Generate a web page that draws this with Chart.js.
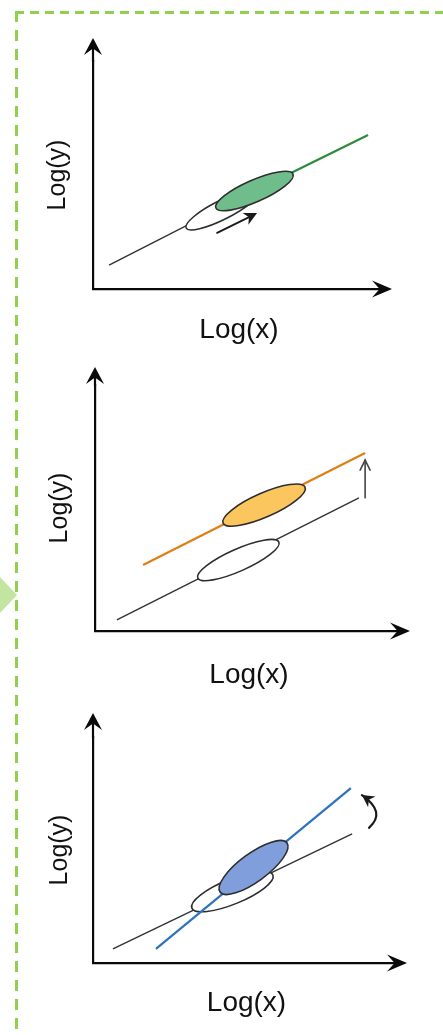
<!DOCTYPE html>
<html><head><meta charset="utf-8">
<script src="https://cdn.jsdelivr.net/npm/chart.js@4.4.1/dist/chart.umd.min.js"></script>
<style>
html,body{margin:0;padding:0;background:#fff;width:443px;height:1035px;overflow:hidden;}
#wrap{position:relative;width:443px;height:1035px;}
canvas{position:absolute;left:0;}
.dashH{position:absolute;left:15px;top:11px;width:428px;height:3px;background:repeating-linear-gradient(to right,#8fd14f 0 9px,transparent 9px 15px);}
.dashV{position:absolute;left:15px;top:11px;width:3px;height:1024px;background:repeating-linear-gradient(to bottom,#8fd14f 0 11px,transparent 11px 19px);}
.tri{position:absolute;left:0;top:577px;width:17px;height:36px;background:#c3e5a2;clip-path:polygon(0 0,100% 50%,0 100%);}
</style></head>
<body><div id="wrap">
<div class="dashH"></div><div class="dashV"></div><div class="tri"></div>
<canvas id="c1" width="443" height="345" style="top:0px"></canvas>
<canvas id="c2" width="443" height="345" style="top:345px"></canvas>
<canvas id="c3" width="443" height="345" style="top:690px"></canvas>
</div>
<script>
// ---- data (axis units 0..10 on both log axes) ----
const axisTitleX = 'Log(x)';
const axisTitleY = 'Log(y)';
const axisRange = [0, 10];

// Panel 1: range shift along the same relation
const p1BaseLine    = [{x:0.55,y:0.98},{x:5.53,y:4.02}];
const p1NewLine     = [{x:5.53,y:4.02},{x:9.42,y:6.31}];
const p1BaseEllipse = [{x:3.19,y:2.50},{x:5.64,y:3.97}];
const p1NewEllipse  = [{x:4.21,y:3.32},{x:6.85,y:4.71}];
const p1Arrow       = [{x:4.25,y:2.30},{x:5.62,y:3.11}];

// Panel 2: upward shift (same slope)
const p2BaseLine    = [{x:0.71,y:0.43},{x:8.57,y:5.18}];
const p2NewLine     = [{x:1.56,y:2.57},{x:8.77,y:6.93}];
const p2BaseEllipse = [{x:3.34,y:2.06},{x:5.97,y:3.46}];
const p2NewEllipse  = [{x:4.16,y:4.20},{x:6.82,y:5.60}];
const p2Arrow       = [{x:8.77,y:5.18},{x:8.77,y:6.65}];

// Panel 3: slope change
const p3BaseLine    = [{x:0.65,y:0.58},{x:8.44,y:5.31}];
const p3NewLine     = [{x:2.05,y:0.58},{x:8.40,y:7.20}];
const p3BaseEllipse = [{x:3.22,y:2.26},{x:5.86,y:3.62}];
const p3NewEllipse  = [{x:4.14,y:2.92},{x:6.32,y:4.94}];
const p3Arrow       = [{x:8.99,y:5.56},{x:9.22,y:6.22},{x:8.76,y:6.91}];

// ---- styles ----
const FONT = 'Liberation Sans, Arial, Helvetica, sans-serif';
const AXIS_COLOR = '#0a0a0a';
const BASE_COLOR = '#333333';
const OUTLINE = '#2e2e2e';
const AXIS_W = 2.2;

function head(ctx, tx, ty, ang, len, half, notch, color) {
  const c = Math.cos(ang), s = Math.sin(ang);
  const bx = tx - c*len, by = ty - s*len;
  const nx = tx - c*len*notch, ny = ty - s*len*notch;
  ctx.save();
  ctx.fillStyle = color;
  ctx.beginPath();
  ctx.moveTo(tx, ty);
  ctx.lineTo(bx - s*half, by + c*half);
  ctx.lineTo(nx, ny);
  ctx.lineTo(bx + s*half, by - c*half);
  ctx.closePath();
  ctx.fill();
  ctx.restore();
}

function px(chart, p) {
  return [chart.scales.x.getPixelForValue(p.x), chart.scales.y.getPixelForValue(p.y)];
}

function drawEllipse(chart, e) {
  const ctx = chart.ctx;
  const [x1,y1] = px(chart, e.pts[0]);
  const [x2,y2] = px(chart, e.pts[1]);
  const cx=(x1+x2)/2, cy=(y1+y2)/2;
  const a = Math.hypot(x2-x1, y2-y1)/2;
  const rot = Math.atan2(y2-y1, x2-x1);
  ctx.save();
  ctx.beginPath();
  ctx.ellipse(cx, cy, a, e.half, rot, 0, Math.PI*2);
  ctx.fillStyle = e.fill; ctx.fill();
  ctx.lineWidth = 1.6; ctx.strokeStyle = e.stroke || OUTLINE; ctx.stroke();
  ctx.restore();
}

function drawArrow(chart, a) {
  const ctx = chart.ctx;
  const P = a.pts.map(p => px(chart, p));
  ctx.save();
  ctx.strokeStyle = a.color; ctx.lineWidth = a.width; ctx.lineCap = 'round';
  ctx.beginPath();
  let ang;
  const end = P[P.length-1];
  if (P.length === 3) {
    const cpx = 2*P[1][0] - (P[0][0]+P[2][0])/2;
    const cpy = 2*P[1][1] - (P[0][1]+P[2][1])/2;
    ctx.moveTo(P[0][0], P[0][1]);
    ctx.quadraticCurveTo(cpx, cpy, end[0], end[1]);
    ang = Math.atan2(end[1]-cpy, end[0]-cpx);
  } else {
    ctx.moveTo(P[0][0], P[0][1]);
    ang = Math.atan2(end[1]-P[0][1], end[0]-P[0][0]);
    const sx = end[0] - Math.cos(ang)*(a.open ? 0 : a.headLen*0.6);
    const sy = end[1] - Math.sin(ang)*(a.open ? 0 : a.headLen*0.6);
    ctx.lineTo(sx, sy);
  }
  ctx.stroke();
  if (a.open) {
    const c=Math.cos(ang), s=Math.sin(ang);
    const bx = end[0]-c*a.headLen, by = end[1]-s*a.headLen;
    ctx.beginPath();
    ctx.moveTo(bx - s*a.headHalf, by + c*a.headHalf);
    ctx.lineTo(end[0], end[1]);
    ctx.lineTo(bx + s*a.headHalf, by - c*a.headHalf);
    ctx.stroke();
  } else {
    head(ctx, end[0], end[1], ang, a.headLen, a.headHalf, 0.7, a.color);
  }
  ctx.restore();
}

const sketchPlugin = {
  id: 'sketch',
  afterDatasetDraw(chart, args, opts) {
    (opts.ellipses || []).filter(e => e.after === args.index).forEach(e => drawEllipse(chart, e));
  },
  afterDatasetsDraw(chart, args, opts) {
    (opts.arrows || []).forEach(a => drawArrow(chart, a));
  },
  afterDraw(chart, args, opts) {
    const ca = chart.chartArea, ctx = chart.ctx;
    const ext = opts.yExtend || 0;
    const tipY = ca.top - ext - 7;
    // y axis continues above the plotted range up to its arrow
    ctx.save();
    ctx.strokeStyle = AXIS_COLOR; ctx.lineWidth = AXIS_W;
    ctx.beginPath();
    ctx.moveTo(ca.left, ca.top + 1);
    ctx.lineTo(ca.left, tipY + 10);
    ctx.stroke();
    ctx.restore();
    head(ctx, ca.right + 7, ca.bottom, 0, 20, 8.5, 0.62, AXIS_COLOR);
    head(ctx, ca.left, tipY, -Math.PI/2, 17, 9, 0.62, AXIS_COLOR);
  }
};

function lineDs(data, color, width, order) {
  return { data, borderColor: color, borderWidth: width, pointRadius: 0, fill: false, tension: 0, order };
}

function makeChart(id, layout, xPad, yPad, yMax, datasets, sketch) {
  return new Chart(document.getElementById(id), {
    type: 'line',
    data: { datasets },
    plugins: [sketchPlugin],
    options: {
      responsive: false, animation: false, devicePixelRatio: 1,
      events: [],
      layout: { padding: layout },
      plugins: { legend: { display: false }, tooltip: { enabled: false }, sketch },
      scales: {
        x: {
          type: 'linear', min: axisRange[0], max: axisRange[1],
          grid: { display: false, drawTicks: false },
          border: { display: true, color: AXIS_COLOR, width: AXIS_W },
          ticks: { display: false },
          title: { display: true, text: axisTitleX, color: '#111',
                   font: { family: FONT, size: 28, lineHeight: 1 }, padding: xPad }
        },
        y: {
          type: 'linear', min: axisRange[0], max: yMax,
          grid: { display: false, drawTicks: false },
          border: { display: true, color: AXIS_COLOR, width: AXIS_W },
          ticks: { display: false },
          title: { display: true, text: axisTitleY, color: '#111',
                   font: { family: FONT, size: 25, lineHeight: 1 }, padding: yPad }
        }
      }
    }
  });
}

// Panel 1
makeChart('c1', {left:39, right:58, top:61, bottom:1}, {top:27, bottom:0}, {top:6.5, bottom:22.5}, 9.344, [
  lineDs(p1BaseLine, BASE_COLOR, 1.4, 2),
  lineDs(p1NewLine, '#2e8b3d', 2.2, 1)
], {
  yExtend: 16,
  ellipses: [
    { after: 0, pts: p1BaseEllipse, half: 9.5, fill: '#ffffff' },
    { after: 1, pts: p1NewEllipse, half: 11, fill: '#6fbd8b' }
  ],
  arrows: [ { pts: p1Arrow, color: '#1a1a1a', width: 1.8, headLen: 13, headHalf: 6.5 } ]
});

// Panel 2
makeChart('c2', {left:41, right:40, top:40, bottom:1}, {top:30, bottom:0}, {top:6.5, bottom:22.5}, 9.572, [
  lineDs(p2BaseLine, BASE_COLOR, 1.4, 2),
  lineDs(p2NewLine, '#df7e17', 2.2, 1)
], {
  yExtend: 11,
  ellipses: [
    { after: 0, pts: p2BaseEllipse, half: 11, fill: '#ffffff' },
    { after: 1, pts: p2NewEllipse, half: 12, fill: '#fcc65e' }
  ],
  arrows: [ { pts: p2Arrow, color: '#444', width: 1.6, headLen: 10, headHalf: 5, open: true } ]
});

// Panel 3
makeChart('c3', {left:41, right:43, top:47, bottom:18}, {top:26, bottom:0}, {top:6.5, bottom:20.5}, 9.300, [
  lineDs(p3BaseLine, BASE_COLOR, 1.4, 2),
  lineDs(p3NewLine, '#2d72bd', 2.2, 1)
], {
  yExtend: 17,
  ellipses: [
    { after: 0, pts: p3BaseEllipse, half: 12.5, fill: '#ffffff' },
    { after: 1, pts: p3NewEllipse, half: 14, fill: '#7f9edb' }
  ],
  arrows: [ { pts: p3Arrow, color: '#1a1a1a', width: 2.2, headLen: 12, headHalf: 6.5 } ]
});
</script>
</body></html>
